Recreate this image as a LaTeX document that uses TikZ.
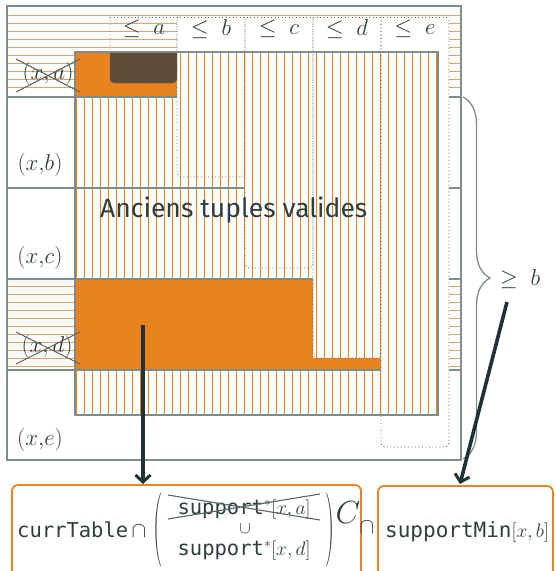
\documentclass[tikz,border=0pt]{standalone}
\usepackage{fontspec}
\setsansfont{Fira Sans}
\setmonofont{DejaVu Sans Mono}
\DeclareFontShape{OT1}{cmr}{m}{n}{<-11>cmr10 <11-15>cmr12 <15->cmr17}{}
\DeclareFontShape{OML}{cmm}{m}{it}{<-11>cmmi10 <11->cmmi12}{}
\DeclareFontShape{OMS}{cmsy}{m}{n}{<->cmsy10}{}
\DeclareFontShape{OMX}{cmex}{m}{n}{<->cmex10}{}
\usetikzlibrary{arrows.meta,decorations.pathreplacing}
\definecolor{ora}{HTML}{E98320}
\definecolor{lora}{HTML}{EFA05A}
\definecolor{brn}{HTML}{5E4B38}
\definecolor{gry}{HTML}{7F8C8D}
\definecolor{dgry}{HTML}{5A6668}
\definecolor{txt}{HTML}{2D3E40}
\definecolor{arr}{HTML}{1F3236}
\tikzset{
  frameline/.style={draw=gry,line width=1.6pt},
  hstripe/.style={draw=lora,line width=1.3pt},
  vstripe/.style={draw=ora,line width=1.2pt},
  colbox/.style={draw=dgry,line width=0.9pt,dash pattern=on 0.9pt off 2.6pt},
  crossline/.style={draw=dgry,line width=1.1pt},
  lbl/.style={inner sep=0pt,text=txt,font=\fontsize{23}{27}\selectfont},
  hdr/.style={inner sep=0pt,text=txt,font=\fontsize{23}{27}\selectfont},
  mth/.style={inner sep=0pt,text=txt,font=\fontsize{19.5}{23}\selectfont},
  bigarrow/.style={draw=arr,line width=3.6pt,-{Straight Barb[length=7pt,width=15pt,line width=3pt]}},
  resbox/.style={draw=ora,line width=1.8pt,rounded corners=6pt},
}
\begin{document}
\begin{tikzpicture}[x=1pt,y=-1pt]
\useasboundingbox (0,0) rectangle (556,571);
\clip (0,0) rectangle (556,571);
% horizontal stripes of the crossed rows
\foreach \k in {0,...,9} \draw[hstripe] (7,{15.5+8*\k}) -- (461,{15.5+8*\k});
\foreach \k in {0,...,10} \draw[hstripe] (7,{286.5+8*\k}) -- (461,{286.5+8*\k});
% full row separators
\foreach \yy in {97,188,279,370} \draw[frameline] (7,\yy) -- (461,\yy);
% column fills
\foreach \xa/\xb/\yb in {177/245/177,245/313/268,313/381/358,381/449/447}
  \fill[white,rounded corners=4pt] (\xa,17) -- (\xa,\yb) -- (\xb,\yb) -- (\xb,17);
% inner rectangle with vertical stripes
\fill[white] (75,52) rectangle (438,415);
\foreach \k in {0,...,45} \draw[vstripe] ({76.5+8*\k},52) -- ({76.5+8*\k},415);
% orange fills
\fill[ora] (75,52) rectangle (177,97);
\fill[ora] (75,279) -- (313,279) -- (313,358) -- (381,358) -- (381,370) -- (75,370) -- cycle;
\fill[brn,rounded corners=4pt] (110,52) -- (110,83) -- (177,83) -- (177,52);
% column borders
\foreach \xa/\xb/\yb in {110/177/83,177/245/177,245/313/268,313/381/358,381/449/447}
  \draw[colbox,rounded corners=4pt] (\xa,17) -- (\xa,\yb) -- (\xb,\yb) -- (\xb,17);
\draw[colbox] (110,17) -- (449,17);
\draw[frameline] (75,52) rectangle (438,415);
% partial row separators
\draw[frameline] (7,97) -- (177,97);
\draw[frameline] (7,188) -- (245,188);
\draw[frameline] (7,279) -- (313,279);
\draw[frameline] (7,370) -- (381,370);
\draw[frameline] (7,6) rectangle (461,460);
% headers
\node[hdr] (ha) at (144,29) {$\leq\; a$};
\node[hdr] (hb) at (211,29) {$\leq\; b$};
\node[hdr] (hc) at (279,29) {$\leq\; c$};
\node[hdr] (hd) at (347,29) {$\leq\; d$};
\node[hdr] (he) at (415,29) {$\leq\; e$};
% row labels
\node[lbl] (ra) at (48,74) {$(x,a)$};
\draw[crossline] (16,59) -- (80,92);
\draw[crossline] (80,59) -- (16,92);
\node[lbl] (rb) at (40,165) {$(x{,}b)$};
\node[lbl] (rc) at (40,258) {$(x{,}c)$};
\node[lbl] (rd) at (47,347) {$(x,d)$};
\draw[crossline] (16,332) -- (80,364);
\draw[crossline] (80,332) -- (16,364);
\node[lbl] (re) at (40,440) {$(x{,}e)$};
\node[anchor=base west,inner sep=0pt,text=txt,font=\sffamily\fontsize{26.5}{30}\selectfont] (anc) at (100,217) {Anciens tuples valides};
% brace
\draw[decorate,decoration={brace,amplitude=27pt},draw=gry,line width=1.3pt] (463,97) -- (463,459);
\node[hdr] (geb) at (520,279) {$\geq\; b$};
% result boxes
\draw[resbox] (12,485) rectangle (361,600);
\draw[resbox] (378,486) rectangle (553,600);
\node[anchor=base west,inner sep=0pt,text=txt,font=\ttfamily\fontsize{20.5}{24}\selectfont] (ct) at (17,537) {currTable};
\node[mth,anchor=base,font=\fontsize{22}{26}\selectfont] (cap1) at (139,537) {$\cap$};
\node[mth,font=\fontsize{26}{30}\selectfont] (lp) at (158,530) {\scalebox{1}[2.85]{(}};
\node[mth,anchor=base] (s1) at (244,514) {{\ttfamily\fontsize{20.5}{24}\selectfont support}$^*[x,a]$};
\draw[crossline] (168,495) -- (320,520);
\draw[crossline] (168,519) -- (320,494);
\node[mth,font=\fontsize{17}{20}\selectfont] (cup) at (245,529) {$\cup$};
\node[mth,anchor=base] (s2) at (244,555) {{\ttfamily\fontsize{20.5}{24}\selectfont support}$^*[x,d]$};
\node[mth,font=\fontsize{26}{30}\selectfont] (rp) at (330,530) {\scalebox{1}[2.85]{)}};
\node[mth,font=\fontsize{32}{36}\selectfont] (cc) at (348,513) {$C$};
\node[mth,font=\fontsize{22}{26}\selectfont] (cap2) at (367,527) {$\cap$};
\node[anchor=base west,inner sep=0pt,text=txt,font=\fontsize{19.5}{23}\selectfont] (sm) at (385,537) {{\ttfamily\fontsize{21}{24}\selectfont supportMin}$[x,b]$};
% arrows
\coordinate (a1s) at (143,325);
\coordinate (a1e) at (143,484);
\coordinate (a2s) at (507,302);
\coordinate (a2e) at (460,484);
\draw[bigarrow] (a1s) -- (a1e);
\draw[bigarrow] (a2s) -- (a2e);
\end{tikzpicture}
\end{document}
